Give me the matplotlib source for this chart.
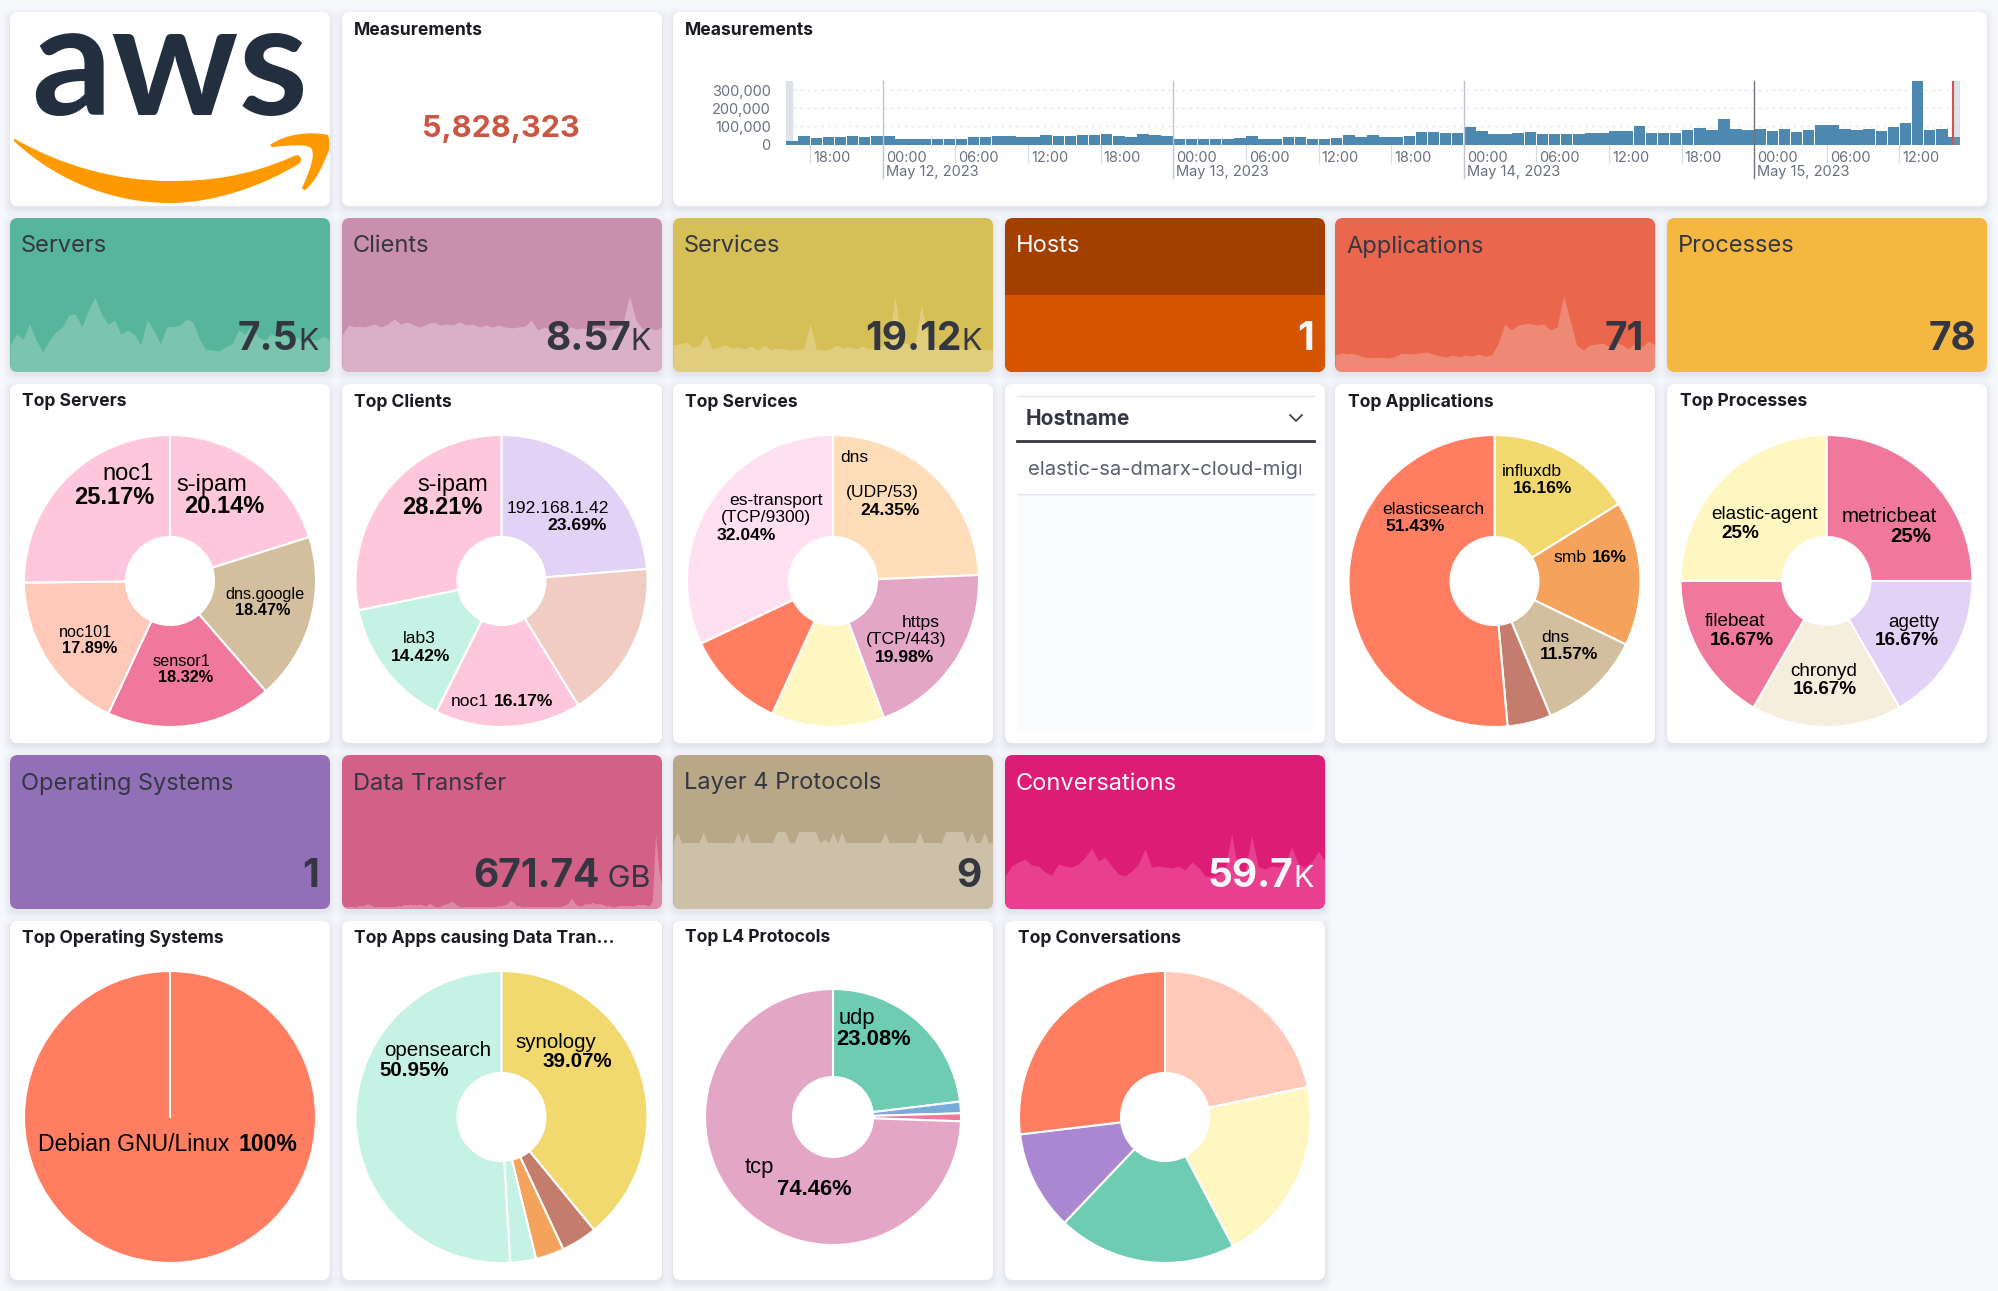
#!/usr/bin/env python3
"""Rebuild the AWS flow-logs dashboard screenshot."""

import matplotlib

matplotlib.use("Agg")
import matplotlib.pyplot as plt
import numpy as np
from matplotlib.patches import FancyBboxPatch, PathPatch, Rectangle
from matplotlib.path import Path

W, H = 1999, 1291
UI_FONT = ["Inter", "DejaVu Sans"]
PIE_FONT = ["Liberation Sans", "DejaVu Sans"]
DARK = "#343741"
LIGHT = "#F5F7FA"

# histogram, thousands of measurements per hour, first bar is 16:00 May 11
HIST_VALUES = [
    20, 46, 35, 42, 40, 46, 40, 46, 46, 30, 28, 31, 31, 33, 33, 41, 41, 48, 46, 41, 41, 50, 46, 48,
    55, 54, 57, 48, 39, 60, 50, 46, 31, 31, 31, 31, 30, 35, 46, 28, 33, 39, 42, 31, 28, 37, 54, 41,
    54, 42, 42, 48, 70, 68, 61, 66, 98, 72, 57, 57, 61, 70, 57, 57, 57, 59, 63, 65, 72, 76, 104, 63,
    66, 66, 80, 91, 78, 139, 85, 80, 83, 76, 83, 70, 80, 109, 107, 85, 78, 85, 76, 98, 119, 420, 80, 87,
    43,
]
HIST_YTICKS = [0, 100, 200, 300]
HIST_YLABELS = ["0", "100,000", "200,000", "300,000"]
HIST_HOUR_TICKS = [2, 14, 20, 26, 38, 44, 50, 62, 68, 74, 86, 92]
HIST_HOUR_LABELS = ["18:00", "06:00", "12:00", "18:00", "06:00", "12:00", "18:00", "06:00", "12:00", "18:00", "06:00", "12:00"]
HIST_DAY_TICKS = [8, 32, 56, 80]
HIST_DAY_LABELS = ["May 12, 2023", "May 13, 2023", "May 14, 2023", "May 15, 2023"]

# sparklines, heights
SPARK_SERVERS = [27, 38, 33, 48, 32, 20, 32, 40, 45, 57, 58, 45, 62, 75, 58, 48, 52, 38, 42, 38, 27, 52, 42, 28, 45,
                 45, 47, 53, 50, 33, 22, 22, 21, 25, 28, 42, 38, 47, 35, 32, 38, 35, 40, 28, 35, 28, 33, 32, 36, 32]
SPARK_CLIENTS = [37, 47, 45, 45, 46, 48, 45, 48, 53, 48, 50, 47, 45, 48, 50, 47, 48, 47, 50, 47, 48, 45, 47, 45, 47,
                 45, 44, 45, 46, 52, 42, 45, 43, 44, 42, 45, 43, 44, 42, 45, 43, 42, 44, 48, 76, 52, 43, 45, 42, 45]
SPARK_SERVICES = [27, 28, 30, 25, 26, 38, 23, 25, 27, 24, 25, 23, 26, 22, 27, 22, 24, 23, 22, 22, 23, 48, 22, 22, 23,
                  27, 24, 25, 23, 26, 23, 24, 26, 28, 76, 28, 28, 25, 67, 38, 25, 23, 26, 23, 24, 22, 25, 22, 23, 22]
SPARK_HOSTS = [77, 77]
SPARK_APPS = [17, 19, 18, 18, 16, 14, 14, 14, 14, 15, 18, 18, 18, 19, 20, 18, 16, 15, 17, 15, 17, 16, 18, 16, 17,
              29, 48, 42, 47, 48, 48, 47, 48, 42, 45, 76, 52, 27, 22, 27, 28, 29, 25, 30, 27, 23, 30, 25, 31, 27]
SPARK_TRANSFER = [2, 2, 2, 2, 2, 3, 3, 4, 5, 4, 2, 2, 2, 2, 2, 2, 2, 3, 3, 4, 4, 5, 4, 4, 5, 4, 3, 6, 4, 2, 2, 4, 5, 6,
                  8, 5, 3, 2, 2, 2, 2, 2, 2, 2, 2, 2, 2, 2, 3, 3, 4, 5, 9, 7, 3, 3, 2, 2, 2, 2, 2, 2, 2, 2, 2, 2, 2,
                  2, 3, 4, 6, 11, 6, 3, 3, 5, 5, 6, 6, 5, 5, 4, 3, 3, 2, 3, 3, 3, 3, 3, 3, 4, 4, 4, 4, 3, 8, 75, 40, 22]
SPARK_L4 = [66, 77, 66, 66, 66, 66, 66, 77, 66, 66, 66, 66, 66, 66, 66, 77, 66, 77, 66, 66, 66, 66, 66, 66, 77,
            77, 77, 66, 66, 77, 77, 77, 77, 77, 66, 70, 66, 77, 66, 77, 66, 66, 66, 66, 66, 66, 66, 66, 66, 77,
            66, 66, 66, 66, 66, 66, 66, 77, 66, 66, 66, 66, 66, 77, 77, 77, 77, 77, 66, 77, 66, 66, 77, 66, 66]
SPARK_CONV = [33, 43, 47, 50, 44, 43, 37, 34, 45, 43, 42, 45, 52, 61, 48, 52, 43, 35, 33, 38, 45, 60, 42, 43, 42,
              41, 43, 39, 47, 42, 33, 32, 35, 40, 75, 38, 37, 74, 42, 40, 43, 42, 45, 62, 45, 42, 47, 58, 48]

# tile values
TILE_TITLES_A = ["Servers", "Clients", "Services", "Hosts", "Applications", "Processes"]
TILE_VALUES_A = ["7.5", "8.57", "19.12", "1", "71", "78"]
TILE_UNITS_A = ["K", "K", "K", "", "", ""]
TILE_TITLES_B = ["Operating Systems", "Data Transfer", "Layer 4 Protocols", "Conversations"]
TILE_VALUES_B = ["1", "671.74", "9", "59.7"]
TILE_UNITS_B = ["", " GB", "", "K"]

# pies, clockwise from 12 o'clock
PIE_SERVERS = [20.14, 18.47, 18.32, 17.89, 25.17]
PIE_CLIENTS = [23.69, 17.51, 16.17, 14.42, 28.21]
PIE_SERVICES = [24.35, 19.98, 12.5, 11.13, 32.04]
PIE_APPS = [16.16, 16, 11.57, 4.84, 51.43]
PIE_PROCESSES = [25, 16.67, 16.67, 16.67, 25]
PIE_OS = [100]
PIE_TRANSFER = [39.07, 3.98, 3.15, 2.85, 50.95]
PIE_L4 = [23.08, 1.46, 1.0, 74.46]
PIE_CONV = [21.7, 20.6, 19.8, 11.0, 26.9]

C_ORANGE = "#FF7E62"
C_PEACH = "#FFC9BA"
C_YELLOW = "#FFF7C2"
C_TEAL = "#6DCCB1"
C_PURPLE = "#A987D1"
C_PINK = "#FFC7DB"
C_LAV = "#E2D2F5"
C_BEIGE = "#D3BF9E"
C_ROSE = "#F0789D"
C_MINT = "#C5F2E4"
C_BROWN = "#C47C6C"
C_AMBER = "#F5A35C"
C_GOLD = "#F1D86F"
C_MAUVE = "#E4A6C7"
C_CREAM = "#F6EEDD"
C_APRICOT = "#FFDDB8"
C_BLUSH = "#FFE0F0"
C_CLAY = "#F0CCC2"
C_BLUE = "#79AAD9"

PANEL_X = [10, 342, 673, 1005, 1335, 1667]
PANEL_W = 320


def px_axes(fig, x0, y0, x1, y1, **kw):
    return fig.add_axes([x0 / W, 1 - y1 / H, (x1 - x0) / W, (y1 - y0) / H], **kw)


def panel(bg, x0, y0, x1, y1, color="white"):
    # soft shadow first, then the card
    for grow, alpha in ((7, 0.012), (5, 0.018), (3, 0.025), (1, 0.035)):
        bg.add_patch(FancyBboxPatch((x0 - grow, y0 - grow + 3), x1 - x0 + 2 * grow, y1 - y0 + 2 * grow,
                                    boxstyle="round,pad=0,rounding_size=9", fc="#3A4660", ec="none", alpha=alpha))
    card = FancyBboxPatch((x0, y0), x1 - x0, y1 - y0, boxstyle="round,pad=0,rounding_size=8", fc=color, ec="none")
    bg.add_patch(card)
    return card


def draw_logo(over):
    over.text(170, 115, "aws", ha="center", va="baseline", fontsize=114, fontweight="bold", color="#232F3E",
              family=["Lato", "DejaVu Sans"])
    swoosh = [(13, 140), (60, 185), (120, 203), (170, 203), (215, 203), (265, 185), (300, 163),
              (303, 158), (298, 155), (294, 156), (245, 178), (205, 181), (170, 181), (115, 181), (60, 165), (15, 139), (13, 140)]
    codes = [Path.MOVETO] + [Path.CURVE4] * 6 + [Path.CURVE3] * 2 + [Path.LINETO] + [Path.CURVE4] * 6 + [Path.CLOSEPOLY]
    over.add_patch(PathPatch(Path(swoosh, codes), fc="#FF9900", ec="none"))
    head = [(270, 145), (285, 134), (310, 131), (328, 135), (330, 140), (329, 150), (322, 168), (315, 182), (305, 190),
            (303, 190), (302, 188), (310, 170), (316, 155), (311, 148), (305, 143), (285, 146), (272, 147), (270, 145)]
    codes = [Path.MOVETO] + [Path.CURVE4] * 3 + [Path.CURVE3] * 2 + [Path.CURVE4] * 3 + [Path.CURVE3] * 2 + [Path.CURVE4] * 6 + [Path.CLOSEPOLY]
    over.add_patch(PathPatch(Path(head, codes), fc="#FF9900", ec="none"))


def draw_hist(fig):
    ax = px_axes(fig, 786, 81, 1960, 144.5)
    hours = np.arange(len(HIST_VALUES))
    ax.bar(hours + 0.5, HIST_VALUES, width=0.95, color="#4C88B0", zorder=2)
    ax.axvspan(0, 0.5, color="#DFE1E8", zorder=1)
    ax.axvspan(96.4, 97, color="#98A2B3", alpha=0.3, zorder=3)
    ax.axvline(96.4, color="#CC5555", linewidth=1.5, zorder=4)
    ax.set_xlim(0, 97)
    ax.set_ylim(0, 350)
    ax.set_yticks(HIST_YTICKS)
    ax.set_yticklabels(HIST_YLABELS, fontsize=10.5, color="#69707D", family=UI_FONT)
    ax.tick_params(axis="y", length=0, pad=11)
    ax.set_xticks(HIST_HOUR_TICKS)
    ax.set_xticklabels([])
    ax.tick_params(axis="x", length=13, width=0.8, color="#D3DAE6")
    ax.grid(axis="y", color="#E6E8F0", linestyle=(0, (2, 3)), linewidth=1.0)
    ax.set_axisbelow(True)
    for spine in ax.spines.values():
        spine.set_visible(False)
    trans = ax.get_xaxis_transform()
    for hour, label in zip(HIST_HOUR_TICKS, HIST_HOUR_LABELS):
        ax.text(hour + 0.25, -0.205, label, transform=trans, ha="left", va="center", fontsize=10.5, color="#69707D", family=UI_FONT)
    for i, (hour, label) in enumerate(zip(HIST_DAY_TICKS, HIST_DAY_LABELS)):
        line = "#6F7480" if i == 3 else "#BFC3CC"
        ax.plot([hour, hour], [-0.53, 1], transform=trans, color=line, linewidth=1.0, clip_on=False, zorder=5)
        ax.text(hour + 0.25, -0.205, "00:00", transform=trans, ha="left", va="center", fontsize=10.5, color="#69707D", family=UI_FONT)
        ax.text(hour + 0.25, -0.44, label, transform=trans, ha="left", va="center", fontsize=10.5, color="#69707D", family=UI_FONT)


def draw_tile(fig, over, card, x0, y0, y1, title, value, unit, bg_text, values, fill, value_size=28):
    if values:
        ax = px_axes(fig, x0, y1 - 100, x0 + PANEL_W, y1)
        ax.axis("off")
        ax.patch.set_visible(False)
        ax.set_xlim(0, 1)
        ax.set_ylim(0, 100)
        coll = ax.fill_between(np.linspace(0, 1, len(values)), values, 0, color=fill, linewidth=0)
        coll.set_clip_path(card)
    over.text(x0 + 11, y0 + 28.5, title, ha="left", va="center", fontsize=17, color=bg_text)
    right = x0 + PANEL_W - 11
    if unit:
        label = over.text(right, y1 - 22, unit, ha="right", va="baseline", fontsize=22, color=bg_text)
        box = label.get_window_extent(renderer=fig.canvas.get_renderer())
        right = right - box.width
    over.text(right, y1 - 22, value, ha="right", va="baseline", fontsize=value_size, fontweight="bold", color=bg_text)


def draw_pie(fig, cx, cy, r, values, colors, hole=44):
    ax = px_axes(fig, cx - r, cy - r, cx + r, cy + r)
    props = {"edgecolor": "white", "linewidth": 1.5}
    if hole:
        props["width"] = 1 - hole / r
    ax.pie(values, colors=colors, startangle=90, counterclock=False, radius=1, wedgeprops=props)
    if len(values) == 1:
        # a lone slice still shows its seam in the reference
        ax.plot([0, 0], [0, 1], color="white", linewidth=1.5)
    ax.set_xlim(-1, 1)
    ax.set_ylim(-1, 1)
    ax.patch.set_visible(False)
    for wedge in ax.patches:
        wedge.set_clip_on(False)


def pie_text(over, x, y, text, size, bold=False):
    over.text(x, y + 1.5, text, ha="center", va="center", fontsize=size, family=PIE_FONT,
              fontweight="bold" if bold else "normal", color="black")


def main():
    plt.rcParams["font.family"] = UI_FONT
    fig = plt.figure(figsize=(W / 100, H / 100), dpi=100, facecolor="#F7F8FC")
    bg = fig.add_axes([0, 0, 1, 1])
    bg.set_xlim(0, W)
    bg.set_ylim(H, 0)
    bg.axis("off")
    over = fig.add_axes([0, 0, 1, 1], zorder=10)
    over.set_xlim(0, W)
    over.set_ylim(H, 0)
    over.axis("off")

    # top row
    panel(bg, 10, 12, 330, 206)
    panel(bg, 342, 12, 662, 206)
    panel(bg, 673, 12, 1987, 206)
    draw_logo(over)
    over.text(354, 30.5, "Measurements", fontsize=12.6, fontweight="bold", va="center", color="#1A1C21")
    over.text(685, 30.5, "Measurements", fontsize=12.6, fontweight="bold", va="center", color="#1A1C21")
    over.text(501, 129, "5,828,323", fontsize=22, fontweight="bold", ha="center", va="center", color="#CC5642")
    draw_hist(fig)

    # first row of tiles
    tile_bg = ["#56B59A", "#CA8EAE", "#D6BF57", "#A34000", "#EA664D", "#F5B73F"]
    tile_fill = ["#7BC4AD", "#D9B0C8", "#E0CE7E", "#D55500", "#EE8975", None]
    tile_text = [DARK, DARK, DARK, LIGHT, DARK, DARK]
    sparks = [SPARK_SERVERS, SPARK_CLIENTS, SPARK_SERVICES, SPARK_HOSTS, SPARK_APPS, None]
    for i, x0 in enumerate(PANEL_X):
        card = panel(bg, x0, 218, x0 + PANEL_W, 372, tile_bg[i])
        draw_tile(fig, over, card, x0, 218, 372, TILE_TITLES_A[i], TILE_VALUES_A[i], TILE_UNITS_A[i],
                  tile_text[i], sparks[i], tile_fill[i])

    # second row of tiles
    tile_bg = ["#9170B8", "#D36086", "#B9A888", "#DD1C76"]
    tile_fill = [None, "#DE89A6", "#CCC0A8", "#E83F8F"]
    tile_text = [DARK, DARK, DARK, LIGHT]
    sparks = [None, SPARK_TRANSFER, SPARK_L4, SPARK_CONV]
    for i, x0 in enumerate(PANEL_X[:4]):
        card = panel(bg, x0, 755, x0 + PANEL_W, 909, tile_bg[i])
        draw_tile(fig, over, card, x0, 755, 909, TILE_TITLES_B[i], TILE_VALUES_B[i], TILE_UNITS_B[i],
                  tile_text[i], sparks[i], tile_fill[i])

    # white pie cards
    for x0 in PANEL_X:
        panel(bg, x0, 384, x0 + PANEL_W, 743)
    for x0 in PANEL_X[:4]:
        panel(bg, x0, 921, x0 + PANEL_W, 1280)
    titles = [(22, 402, "Top Servers"), (354, 402, "Top Clients"), (685, 402, "Top Services"),
              (1348, 402, "Top Applications"), (1680, 402, "Top Processes"),
              (22, 938, "Top Operating Systems"), (354, 938, "Top Apps causing Data Tran..."),
              (685, 938, "Top L4 Protocols"), (1018, 938, "Top Conversations")]
    for x, y, text in titles:
        over.text(x, y, text, fontsize=12.6, fontweight="bold", va="center", color="#1A1C21")

    draw_pie(fig, 170, 581, 146, PIE_SERVERS, [C_PINK, C_BEIGE, C_ROSE, C_PEACH, C_PINK])
    draw_pie(fig, 501.5, 581, 146, PIE_CLIENTS, [C_LAV, C_CLAY, C_PINK, C_MINT, C_PINK])
    draw_pie(fig, 833, 581, 146, PIE_SERVICES, [C_APRICOT, C_MAUVE, C_YELLOW, C_ORANGE, C_BLUSH])
    draw_pie(fig, 1494.5, 581, 146, PIE_APPS, [C_GOLD, C_AMBER, C_BEIGE, C_BROWN, C_ORANGE])
    draw_pie(fig, 1826.5, 581, 146, PIE_PROCESSES, [C_ROSE, C_LAV, C_CREAM, C_ROSE, C_YELLOW])
    draw_pie(fig, 170, 1117, 146, PIE_OS, [C_ORANGE], hole=0)
    draw_pie(fig, 501.5, 1117, 146, PIE_TRANSFER, [C_GOLD, C_BROWN, C_AMBER, C_MINT, C_MINT])
    draw_pie(fig, 833, 1117, 128, PIE_L4, [C_TEAL, C_BLUE, C_ROSE, C_MAUVE], hole=40)
    draw_pie(fig, 1165, 1117, 146, PIE_CONV, [C_PEACH, C_YELLOW, C_TEAL, C_PURPLE, C_ORANGE])

    big, mid, small = 17, 12.6, 11.7
    for x, y, text, size, bold in [
        (128, 473, "noc1", big, False), (114, 496, "25.17%", big, True),
        (212, 483, "s-ipam", big, False), (224, 505, "20.14%", big, True),
        (265.5, 593, "dns.google", small, False), (262.5, 609, "18.47%", small, True),
        (181, 660, "sensor1", small, False), (185.5, 676, "18.32%", small, True),
        (85, 631, "noc101", small, False), (90, 647, "17.89%", small, True),
        (453, 483, "s-ipam", big, False), (442, 506, "28.21%", big, True),
        (558, 507, "192.168.1.42", mid, False), (577, 524, "23.69%", mid, True),
        (419.5, 637, "lab3", mid, False), (421, 655, "14.42%", mid, True),
        (470, 700, "noc1", mid, False), (524, 700, "16.17%", mid, True),
        (854, 456, "dns", mid, False), (882.5, 491, "(UDP/53)", mid, False), (890, 509, "24.35%", mid, True),
        (776.5, 499, "es-transport", mid, False), (766, 516, "(TCP/9300)", mid, False), (746, 534, "32.04%", mid, True),
        (920.5, 621, "https", mid, False), (906.5, 638, "(TCP/443)", mid, False), (904.5, 656, "19.98%", mid, True),
        (1532, 470, "influxdb", mid, False), (1543, 487, "16.16%", mid, True),
        (1570, 556, "smb", mid, False), (1609, 556, "16%", mid, True),
        (1555, 636, "dns", mid, False), (1569, 653, "11.57%", mid, True),
        (1433, 508, "elasticsearch", mid, False), (1415, 525, "51.43%", mid, True),
        (1889, 515, "metricbeat", 14.7, False), (1911, 535, "25%", 14.7, True),
        (1765, 513, "elastic-agent", 13.6, False), (1740, 532, "25%", 13.6, True),
        (1914, 621, "agetty", 13.6, False), (1907, 639, "16.67%", 13.6, True),
        (1735, 620, "filebeat", 13.6, False), (1742, 639, "16.67%", 13.6, True),
        (1824, 670, "chronyd", 13.6, False), (1825, 688, "16.67%", 13.6, True),
        (134, 1143, "Debian GNU/Linux", 16.6, False), (268, 1143, "100%", 16.6, True),
        (438, 1049, "opensearch", 14.8, False), (414, 1069, "50.95%", 14.8, True),
        (555.5, 1041, "synology", 14.8, False), (577, 1060, "39.07%", 14.8, True),
        (857, 1017, "udp", 15.8, False), (874, 1038, "23.08%", 15.8, True),
        (759, 1166, "tcp", 15.8, False), (814, 1188, "74.46%", 15.8, True),
    ]:
        pie_text(over, x, y, text, size, bold)

    # hostname control
    over.plot([1017, 1314], [396, 396], color="#E3E6EF", linewidth=1.0)
    over.text(1026, 419, "Hostname", fontsize=15, fontweight="bold", va="center", color=DARK)
    over.plot([1290, 1296, 1302], [415, 421, 415], color=DARK, linewidth=1.2)
    over.plot([1017, 1314], [441, 441], color=DARK, linewidth=2.0)
    value = over.text(1028, 470, "elastic-sa-dmarx-cloud-migration", fontsize=14.6, va="center", color="#5A5F6B")
    value.set_clip_path(Rectangle((1017, 450), 284, 40, transform=over.transData))
    value.set_clip_on(True)
    over.plot([1017, 1314], [494, 494], color="#E3E6EF", linewidth=1.0)
    bg.add_patch(Rectangle((1017, 495), 297, 236, fc="#FAFBFD", ec="none"))

    fig.savefig("out.png", dpi=100, facecolor=fig.get_facecolor())
    plt.close(fig)


if __name__ == "__main__":
    main()
